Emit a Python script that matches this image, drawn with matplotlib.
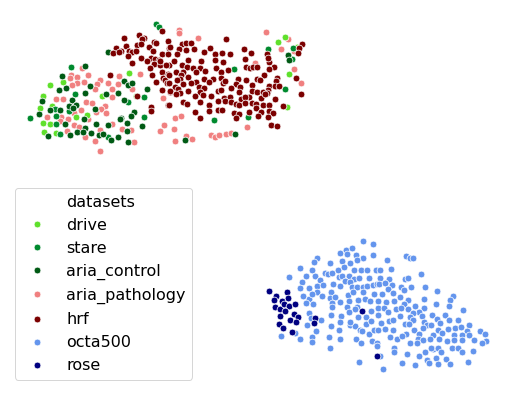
import matplotlib
matplotlib.use("Agg")
import matplotlib.pyplot as plt
from matplotlib.lines import Line2D

drive = [(129,73),(50,85),(63,82),(102,96),(136,96),(40,108),(76,117),(43,123),(50,124),(44,132),(56,133),(52,106),(87,115),(43,96),(278,42),(289,74),(287,107),(285,37),(297,47)]
stare = [(156,24),(159,27),(71,67),(30,118),(75,94),(144,97),(144,117),(128,102),(55,109),(69,111),(56,116),(56,124),(60,134),(108,137),(234,69),(285,89),(248,117),(268,49),(214,120),(293,48),(292,59)]
aria_control = [(108,52),(85,66),(62,76),(59,90),(66,88),(90,86),(124,81),(128,85),(132,83),(147,89),(106,94),(118,93),(85,93),(42,101),(72,100),(76,105),(124,100),(69,106),(73,108),(50,110),(60,110),(39,114),(134,112),(131,116),(121,118),(120,119),(84,119),(96,124),(127,123),(108,125),(65,124),(85,128),(142,126),(127,131),(77,132),(83,132),(91,133),(70,135),(48,136),(99,135),(103,134),(118,137),(111,140),(128,142),(95,109),(288,55),(289,60),(235,134),(185,140)]
aria_pathology = [(82,68),(88,75),(71,75),(70,78),(77,77),(77,83),(72,85),(84,82),(100,80),(97,84),(95,89),(108,83),(119,76),(118,84),(112,89),(132,89),(140,74),(112,97),(43,96),(56,99),(63,99),(86,102),(92,103),(105,106),(101,109),(81,110),(96,112),(106,113),(74,113),(47,117),(61,117),(68,119),(60,121),(88,119),(74,125),(79,127),(112,124),(122,129),(131,130),(67,131),(100,130),(85,137),(95,141),(134,142),(100,151),(164,125),(160,131),(163,98),(179,30),(179,33),(198,38),(266,32),(288,39),(294,51),(281,49),(255,63),(294,69),(301,83),(175,118),(181,116),(174,129),(175,141),(186,136),(192,139),(211,135),(215,137),(219,135),(226,134),(231,133),(247,127),(271,125)]
hrf = [(124,38),(139,35),(144,38),(142,39),(162,31),(168,41),(116,48),(113,53),(121,51),(119,52),(126,46),(137,45),(141,44),(154,42),(156,43),(149,47),(169,48),(153,51),(129,51),(132,52),(136,51),(128,56),(141,58),(151,58),(147,61),(155,59),(162,54),(168,54),(132,63),(159,60),(154,64),(160,65),(150,68),(169,65),(162,72),(152,75),(163,78),(168,74),(165,80),(156,82),(167,83),(110,75),(162,90),(170,92),(168,105),(137,96),(151,107),(151,111),
(170,47),(182,44),(186,43),(191,43),(179,49),(186,50),(194,49),(210,48),(204,52),(226,39),(215,54),(222,53),(230,54),(244,49),(251,53),(245,59),(267,54),(269,62),(268,58),(177,54),(174,61),(215,60),(201,61),(223,62),(188,60),(160,61),(166,65),(182,65),(187,67),(193,68),(200,68),(205,71),(216,68),(228,70),(221,72),(246,67),(250,68),(253,67),(257,67),(274,67),(269,69),(176,72),(183,72),(169,75),(196,72),(181,75),(188,77),(196,82),(204,79),(213,79),(221,78),(180,79),(177,80),(191,83),(169,83),(183,84),(209,82),(199,87),(204,88),(223,83),(225,81),(238,79),(236,84),(246,80),(257,79),(264,75),(260,80),(277,78),(276,81),(269,86),(275,86),(279,86),(252,85),(240,87),(231,88),(268,90),(175,87),(178,89),(170,91),(188,91),(180,93),(176,94),(200,92),(218,91),(221,90),(239,92),(252,91),(257,92),(263,92),(267,93),(195,96),(203,95),(211,96),(224,98),(230,97),(241,99),(249,97),(245,97),(261,98),(275,99),(265,94),(183,102),(187,104),(200,102),(218,101),(225,101),(231,102),(236,104),(239,105),(245,103),(252,103),(256,104),(263,105),(269,105),(283,106),(169,105),(209,105),(218,110),(222,110),(209,111),(195,112),(249,112),(256,108),(261,112),(269,111),(273,113),(234,113),(239,114),(236,118),(258,116),(268,117),(200,118),(271,125),(277,126),(302,44),(299,48),(298,53),(296,78),(301,94)]
octa500 = [(363,241),(373,244),(340,253),(346,250),(352,248),(347,254),(317,258),(314,262),(330,263),(342,261),(356,255),(363,258),(373,255),(357,260),(300,268),(312,270),(325,273),(328,274),(332,273),(338,270),(344,267),(350,263),(354,270),(361,270),(367,270),(376,270),(289,277),(306,276),(315,276),(302,282),(320,280),(339,277),(342,276),(349,276),(345,281),(354,279),(359,278),(369,278),(350,282),(333,284),(317,286),(323,285),(300,288),(309,288),(340,286),(352,287),(357,287),(363,287),(367,286),(373,285),(377,284),(317,292),(303,296),(322,296),(331,292),(348,295),(353,292),(363,292),(374,294),(309,299),(312,294),(306,303),(313,304),(330,298),(335,297),(349,301),(358,300),(365,299),(370,301),(332,303),(340,302),(378,301),(332,307),(347,307),(357,307),(355,309),(378,308),(309,313),(331,315),(341,316),(349,312),(358,317),(366,317),(371,311),(378,315),(311,318),(321,320),(340,322),(350,325),(355,326),(366,324),(371,321),(307,325),(331,326),(339,330),(350,322),(360,330),(362,331),(369,334),(374,330),(316,331),(295,333),(281,336),(329,337),(312,337),(300,339),(312,342),(340,339),(356,339),(361,343),(372,341),(377,343),(330,348),(359,362),
(387,260),(406,256),(410,258),(413,258),(380,270),(391,269),(421,274),(380,278),(389,279),(405,279),(408,278),(379,284),(385,283),(392,285),(401,287),(404,290),(388,289),(411,287),(425,287),(437,291),(382,294),(393,293),(400,297),(394,301),(386,302),(408,300),(424,299),(453,296),(450,300),(436,304),(404,304),(384,308),(396,309),(401,308),(408,309),(415,306),(424,308),(449,306),(388,312),(419,312),(413,313),(463,310),(400,316),(410,317),(422,316),(432,315),(445,315),(389,321),(393,320),(413,320),(424,322),(437,319),(449,320),(458,320),(381,323),(405,324),(409,324),(427,325),(431,325),(440,323),(469,325),(423,328),(455,328),(461,327),(378,330),(385,329),(393,330),(414,330),(438,330),(448,329),(467,331),(480,331),(406,334),(419,334),(433,335),(442,333),(454,335),(462,335),(469,335),(485,334),(390,337),(397,339),(418,339),(402,336),(423,340),(430,339),(439,339),(447,341),(454,340),(462,340),(474,340),(486,341),(410,343),(417,343),(482,343),(377,346),(433,349),(394,348),(431,348),(438,348),(452,348),(458,348),(425,352),(441,352),(462,352),(473,351),(407,354),(394,352),(419,356),(436,358),(446,359),(380,356),(402,363),(427,360),(429,363),(415,365),(438,364),(450,364),(468,362),(383,369)]
rose = [(269,291),(276,296),(287,292),(288,298),(274,300),(282,301),(275,307),(280,309),(284,304),(289,306),(295,304),(285,311),(280,316),(294,314),(298,317),(290,320),(296,322),(279,324),(283,328),(292,332),(315,318),(314,323),(362,311),(377,356)]

labels = ["drive", "stare", "aria_control", "aria_pathology", "hrf", "octa500", "rose"]
series = [drive, stare, aria_control, aria_pathology, hrf, octa500, rose]
colors = ["#5fe02c", "#008a2e", "#005a14", "#f08080", "#7b0000", "#6495ed", "#000080"]
draw_order = [3, 0, 1, 2, 4, 5, 6]

fig = plt.figure(figsize=(516/72, 394/72), dpi=72)
ax = fig.add_axes([0, 0, 1, 1])
ax.set_xlim(0, 516)
ax.set_ylim(394, 0)
ax.axis("off")

for i in draw_order:
    pts, c = series[i], colors[i]
    ax.scatter([p[0] for p in pts], [p[1] for p in pts], s=46, c=c,
               edgecolors="white", linewidths=0.75)

handles = [Line2D([], [], linestyle="none", marker=None)]
handles += [Line2D([], [], linestyle="none", marker="o", markersize=6.8, color=c,
                   markeredgecolor="white", markeredgewidth=0.75) for c in colors]
leg = ax.legend(handles, ["datasets"] + labels, fontsize=16,
                loc="lower left", bbox_to_anchor=(15/516, 1-379.5/394),
                borderaxespad=0, frameon=True)
fig.savefig("out.png", dpi=72)
